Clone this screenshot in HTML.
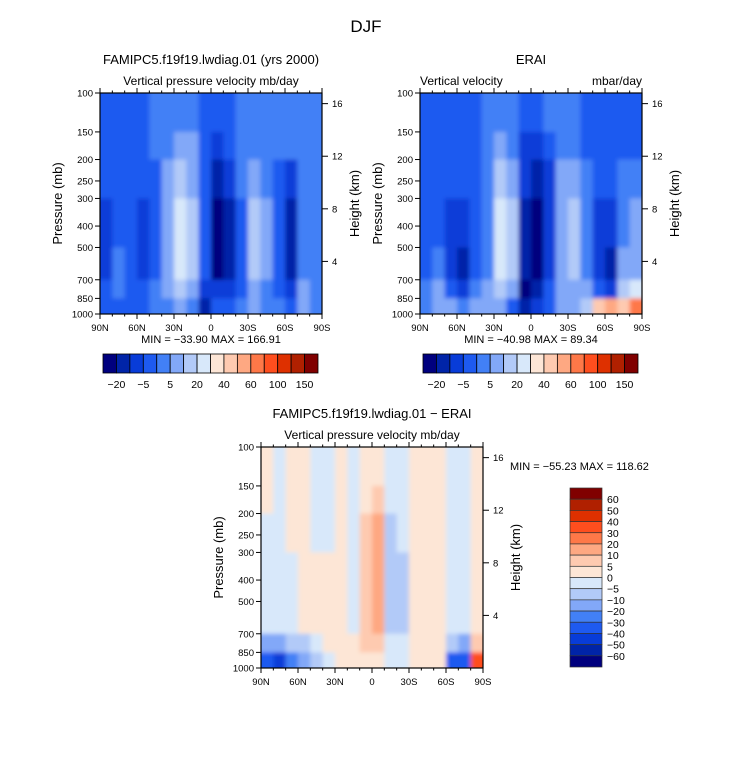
<!DOCTYPE html>
<html><head><meta charset="utf-8">
<style>
body{margin:0;background:#fff;}
svg text{font-family:"Liberation Sans",sans-serif;fill:#000;}
</style></head>
<body>
<svg id="chart" width="733" height="762" viewBox="0 0 733 762" xmlns="http://www.w3.org/2000/svg">
<defs><filter id="soft" x="-5%" y="-5%" width="110%" height="110%"><feGaussianBlur stdDeviation="2.2"/></filter></defs>
<text x="366" y="32" font-size="17" text-anchor="middle">DJF</text>
</svg>
<script>
// ---- data ----
const palette = ["#00007e","#0024a8","#083cd8","#1e5af0","#4280f6","#82a8f8","#b2caf8","#d8e8fa",
                 "#fde6d6","#fecab0","#fea882","#fe7848","#fe4e1e","#de3000","#b02000","#800000"];
const latLabels = ["90N","60N","30N","0","30S","60S","90S"];
const presTicks = [100,150,200,250,300,400,500,700,850,1000];
const heightTicks = [16,12,8,4];
const levelEdges = [100,150,200,300,500,700,850,1000];
const cbLabelsTop = ["-20","-5","5","20","40","60","100","150"];
const cbLabelsDiff = ["60","50","40","30","20","10","5","0","-5","-10","-20","-30","-40","-50","-60"];
// columns 90N->90S in 10-degree bins; rows top (100mb) to bottom (1000mb); values = palette index
const modelField = [
[3,3,3,2,2,3,3],[3,3,3,3,4,4,3],[3,3,3,3,3,3,3],[3,3,3,2,2,3,3],[4,4,3,3,3,4,4],[4,4,5,5,5,5,4],
[4,5,6,7,7,6,5],[4,5,5,6,6,5,4],[3,3,3,3,3,2,1],[3,2,1,0,0,2,3],[3,3,2,1,1,2,3],[4,4,4,3,3,3,4],
[4,4,5,6,6,5,5],[4,4,4,5,5,4,4],[4,4,3,3,3,3,4],[4,4,2,1,1,2,3],[4,4,4,4,4,5,5],[4,4,4,4,4,4,4]];
const eraiField = [
[3,3,3,3,3,4,4],[3,3,3,3,4,5,5],[3,3,3,2,2,3,5],[3,3,3,2,1,2,4],[3,3,3,3,3,4,5],[4,4,4,4,4,5,5],
[4,5,6,7,7,6,5],[4,4,5,6,6,5,3],[3,2,2,1,1,0,1],[3,2,1,0,0,1,2],[4,3,2,2,2,3,3],[4,4,5,5,5,5,5],
[4,4,5,6,6,5,5],[3,3,4,4,4,5,6],[3,3,3,2,2,3,9],[3,3,3,2,1,2,10],[3,3,4,4,5,6,9],[3,3,4,5,5,7,11]];
const diffField = [
[8,8,7,7,7,5,3],[7,7,7,7,7,5,2],[8,8,8,7,7,6,4],[8,8,8,8,8,6,5],[7,7,7,8,8,7,6],[7,7,7,8,8,8,7],
[8,8,8,8,8,8,8],[7,7,7,7,7,8,8],[8,8,9,9,9,9,8],[8,9,10,10,10,9,8],[7,7,6,6,6,7,7],[7,7,7,6,6,7,7],
[8,8,8,8,8,8,8],[8,8,8,8,8,8,8],[8,8,8,8,8,8,8],[7,7,7,7,7,6,3],[7,7,7,7,7,5,3],[8,8,8,8,8,9,12]];

const NS="http://www.w3.org/2000/svg";
const svg=document.getElementById('chart');
const defs=svg.querySelector('defs');
function mk(tag,attrs,parent){const e=document.createElementNS(NS,tag);for(const k in attrs)e.setAttribute(k,attrs[k]);(parent||svg).appendChild(e);return e;}
function txt(x,y,s,size,anchor,parent,extra){const t=mk('text',Object.assign({x:x,y:y,'font-size':size,'text-anchor':anchor||'start'},extra||{}),parent);t.textContent=s;return t;}

function panel(name,x0,y0,w,h,field,title,sub1,sub2,minmax,mmPos){
  const g=mk('g',{});
  
  
  const xs=lat=>x0+(90-lat)/180*w;
  const ys=p=>y0+Math.log(p/100)/Math.log(10)*h;
  const cp=mk('clipPath',{id:'clip-'+name},defs);
  mk('rect',{x:x0,y:y0,width:w,height:h},cp);
  const clipG=mk('g',{'clip-path':'url(#clip-'+name+')'},g);
  const cells=mk('g',{filter:'url(#soft)'},clipG);
  field.forEach((col,i)=>{
    col.forEach((v,j)=>{
      let xa=xs(90-i*10), xb=xs(80-i*10), ya=ys(levelEdges[j]), yb=ys(levelEdges[j+1]);
      if(i===0) xa-=6; if(i===field.length-1) xb+=6;
      if(j===0) ya-=6; if(j===col.length-1) yb+=6;
      const r=mk('rect',{x:xa,y:ya,width:xb-xa+0.5,height:yb-ya+0.5,fill:palette[v]},cells);
      
      
    });
  });
  const fr=mk('rect',{x:x0,y:y0,width:w,height:h,fill:'none',stroke:'#000','stroke-width':1.2},g);
  
  
  latLabels.forEach((l,i)=>{
    const x=x0+i*w/6;
    mk('line',{x1:x,y1:y0+h,x2:x,y2:y0+h+5,stroke:'#000'},g);
    mk('line',{x1:x,y1:y0,x2:x,y2:y0-5,stroke:'#000'},g);
    const t=txt(x,y0+h+17,l,9.5,'middle',g);
    
    
  });
  for(let i=0;i<18;i++){const x=x0+i*w/18;mk('line',{x1:x,y1:y0+h,x2:x,y2:y0+h+2.5,stroke:'#000'},g);mk('line',{x1:x,y1:y0,x2:x,y2:y0-2.5,stroke:'#000'},g);}
  presTicks.forEach(p=>{
    const y=ys(p);
    mk('line',{x1:x0,y1:y,x2:x0-5,y2:y,stroke:'#000'},g);
    const t=txt(x0-7,y+3.5,String(p),9.5,'end',g);
    
    
  });
  heightTicks.forEach(z=>{
    const y=ys(1000*Math.exp(-z/7.3));
    mk('line',{x1:x0+w,y1:y,x2:x0+w+6,y2:y,stroke:'#000'},g);
    const t=txt(x0+w+10,y+3.5,String(z),9.5,'start',g);
    
    
  });
  const yl=txt(0,0,'Pressure (mb)',13,'middle',g,{transform:`translate(${x0-38},${y0+h/2}) rotate(-90)`});
  
  
  const hl=txt(0,0,'Height (km)',13,'middle',g,{transform:`translate(${x0+w+37},${y0+h/2}) rotate(-90)`});
  
  
  const t1=txt(x0+w/2,y0-29,title,13,'middle',g);
  
  
  if(sub2){
    const a=txt(x0,y0-8,sub1,12,'start',g);
    const b=txt(x0+w,y0-8,sub2,12,'end',g);
  } else {
    const a=txt(x0+w/2,y0-8,sub1,12,'middle',g);
  }
  const m=txt(mmPos[0],mmPos[1],minmax,11,mmPos[2],g,{'xml:space':'preserve'});
  
  
}

function hbar(name,x0,y0,w,h){
  const g=mk('g',{});
  
  
  const bw=w/16;
  palette.forEach((c,i)=>{
    const r=mk('rect',{x:x0+i*bw,y:y0,width:bw,height:h,fill:c,stroke:'#000','stroke-width':0.8},g);
    
    
  });
  cbLabelsTop.forEach((l,i)=>{
    const t=txt(x0+(2*i+1)*bw,y0+h+15,l.replace('-','\u2212'),10.5,'middle',g);
    
    
  });
}
function vbar(name,x0,y0,w,h){
  const g=mk('g',{});
  
  
  const bh=h/16;
  palette.slice().reverse().forEach((c,i)=>{
    const r=mk('rect',{x:x0,y:y0+i*bh,width:w,height:bh,fill:c,stroke:'#333','stroke-width':0.7},g);
    
    
  });
  cbLabelsDiff.forEach((l,i)=>{
    const t=txt(x0+w+5,y0+(i+1)*bh+4,l.replace('-','\u2212'),10.5,'start',g);
    
    
  });
}

panel('model-panel',100,93,222,221,modelField,'FAMIPC5.f19f19.lwdiag.01 (yrs 2000)','Vertical pressure velocity mb/day',null,'MIN = \u221233.90   MAX = 166.91',[211,343,'middle']);
panel('erai-panel',420,93,222,221,eraiField,'ERAI','Vertical velocity','mbar/day','MIN = \u221240.98   MAX = 89.34',[531,343,'middle']);
panel('diff-panel',261,447,222,221,diffField,'FAMIPC5.f19f19.lwdiag.01 \u2212 ERAI','Vertical pressure velocity mb/day',null,'MIN = \u221255.23   MAX = 118.62',[510,470,'start']);
hbar('model-colorbar',103,354,215,19);
hbar('erai-colorbar',423,354,215,19);
vbar('diff-colorbar',570,488,32,179);
</script>
</body></html>
